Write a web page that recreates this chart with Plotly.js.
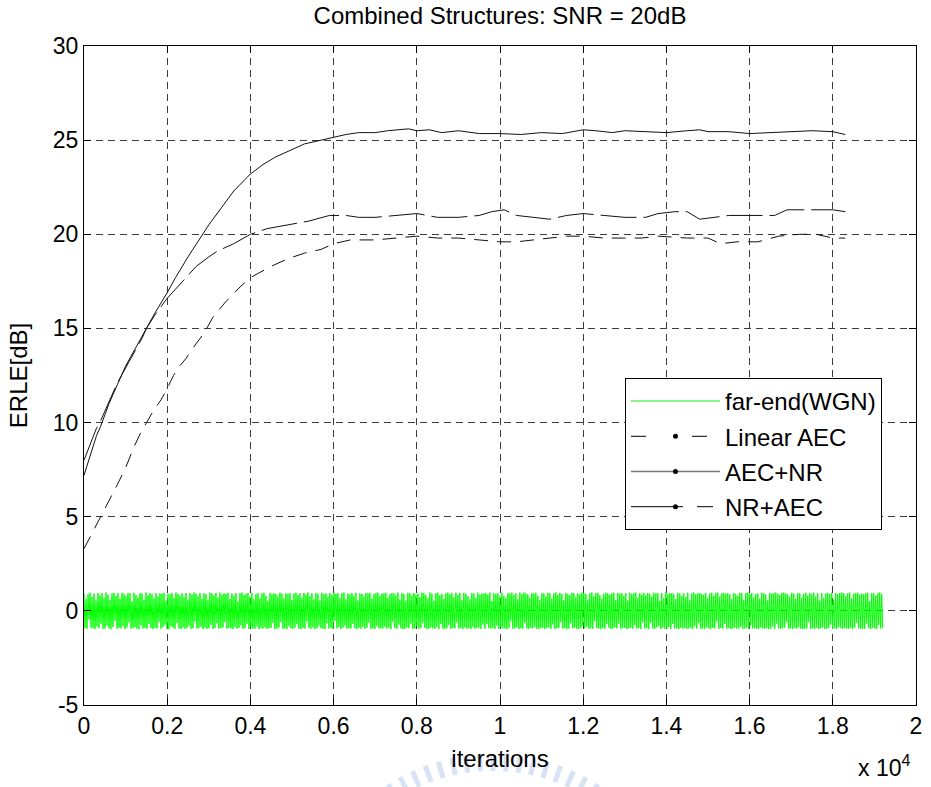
<!DOCTYPE html>
<html>
<head>
<meta charset="utf-8">
<script src="https://cdn.plot.ly/plotly-3.0.1.min.js"></script>
<style>
  html, body { margin: 0; padding: 0; background: #fff; }
  #chart { width: 931px; height: 787px; }
</style>
</head>
<body>
<div id="chart"></div>
<script>
// Axis ticks (iterations are plotted in units of 10^4)
const xTickVals = [0, 0.2, 0.4, 0.6, 0.8, 1, 1.2, 1.4, 1.6, 1.8, 2];
const xTickText = ['0', '0.2', '0.4', '0.6', '0.8', '1', '1.2', '1.4', '1.6', '1.8', '2'];
const yTickVals = [-5, 0, 5, 10, 15, 20, 25, 30];
const yTickText = ['-5', '0', '5', '10', '15', '20', '25', '30'];

// Series names
const seriesNames = ['far-end(WGN)', 'Linear AEC', 'AEC+NR', 'NR+AEC'];

// ERLE curves [dB]
const linAecX = [0, 0.019, 0.038, 0.06, 0.08, 0.10, 0.12, 0.135, 0.15, 0.166, 0.185, 0.20, 0.215, 0.23, 0.245, 0.26, 0.29, 0.31, 0.34, 0.375, 0.40, 0.45, 0.49, 0.53, 0.57, 0.60, 0.64, 0.70, 0.75, 0.80, 0.85, 0.90, 0.95, 1.00, 1.04, 1.08, 1.12, 1.16, 1.20, 1.25, 1.30, 1.34, 1.38, 1.45, 1.50, 1.53, 1.57, 1.62, 1.67, 1.72, 1.76, 1.80, 1.83];
const linAecY = [3.3, 4.1, 4.9, 5.8, 6.7, 7.6, 8.7, 9.4, 10.0, 10.6, 11.2, 11.8, 12.5, 13.0, 13.4, 13.9, 14.8, 15.6, 16.4, 17.2, 17.7, 18.3, 18.7, 19.0, 19.2, 19.5, 19.7, 19.7, 19.8, 19.9, 19.8, 19.8, 19.7, 19.6, 19.6, 19.7, 19.8, 19.9, 19.9, 19.8, 19.8, 19.8, 19.9, 19.8, 19.8, 19.5, 19.6, 19.6, 19.9, 20.0, 20.0, 19.8, 19.8];

const aecNrX = [0, 0.01, 0.02, 0.03, 0.04, 0.05, 0.06, 0.08, 0.10, 0.12, 0.14, 0.15, 0.17, 0.20, 0.22, 0.25, 0.28, 0.30, 0.33, 0.36, 0.40, 0.43, 0.46, 0.50, 0.53, 0.56, 0.60, 0.63, 0.66, 0.70, 0.73, 0.76, 0.78, 0.80, 0.83, 0.86, 0.90, 0.95, 1.00, 1.05, 1.10, 1.15, 1.20, 1.23, 1.27, 1.30, 1.35, 1.40, 1.45, 1.48, 1.50, 1.55, 1.60, 1.65, 1.70, 1.75, 1.80, 1.83];
const aecNrY = [7.2, 7.9, 8.6, 9.3, 9.8, 10.4, 11.0, 12.0, 13.0, 13.8, 14.6, 15.0, 15.8, 16.9, 17.7, 18.8, 19.8, 20.5, 21.4, 22.3, 23.2, 23.7, 24.1, 24.5, 24.8, 24.95, 25.15, 25.3, 25.4, 25.4, 25.5, 25.55, 25.6, 25.5, 25.55, 25.4, 25.5, 25.35, 25.35, 25.3, 25.4, 25.35, 25.55, 25.5, 25.4, 25.5, 25.45, 25.4, 25.5, 25.55, 25.45, 25.45, 25.35, 25.4, 25.45, 25.5, 25.45, 25.3];

const nrAecX = [0, 0.01, 0.02, 0.03, 0.04, 0.05, 0.06, 0.08, 0.10, 0.12, 0.14, 0.15, 0.17, 0.20, 0.22, 0.24, 0.27, 0.30, 0.32, 0.36, 0.40, 0.44, 0.49, 0.54, 0.59, 0.63, 0.66, 0.70, 0.75, 0.80, 0.85, 0.90, 0.95, 0.98, 1.01, 1.04, 1.08, 1.12, 1.16, 1.20, 1.25, 1.30, 1.35, 1.38, 1.42, 1.45, 1.48, 1.51, 1.55, 1.60, 1.66, 1.69, 1.74, 1.80, 1.83];
const nrAecY = [8.0, 8.6, 9.2, 9.7, 10.1, 10.6, 11.1, 12.1, 12.9, 13.7, 14.5, 15.0, 15.7, 16.6, 17.1, 17.6, 18.3, 18.8, 19.1, 19.5, 20.0, 20.3, 20.5, 20.7, 21.0, 21.0, 20.9, 20.9, 21.0, 21.1, 20.9, 20.9, 21.0, 21.2, 21.3, 21.0, 20.9, 20.8, 21.0, 21.1, 21.0, 20.9, 20.9, 21.1, 21.2, 21.2, 20.8, 20.9, 21.0, 21.0, 21.0, 21.3, 21.3, 21.3, 21.2];

// Far-end white Gaussian noise reference (amplitude per sample), spanning 0 .. wgnEnd
const wgnEnd = 1.92;
const wgnY = [
  .94,-.91,.62,-.95,.88,-.47,.96,-.89,.73,-.93,.91,-.96,.55,-.84,.95,-.92,.81,-.67,.93,-.95,
  .69,-.94,.97,-.78,.86,-.93,.58,-.97,.92,-.85,.95,-.52,.79,-.95,.94,-.90,.64,-.93,.96,-.81,
  .90,-.96,.77,-.88,.95,-.61,.93,-.94,.50,-.92,.96,-.87,.84,-.95,.71,-.97,.94,-.76,.92,-.93,
  .59,-.90,.97,-.95,.83,-.70,.94,-.91,.88,-.96,.66,-.89,.95,-.94,.76,-.58,.93,-.95,.90,-.86,
  .96,-.73,.54,-.94,.91,-.97,.87,-.82,.95,-.90,.68,-.95,.97,-.63,.89,-.93,.80,-.96,.93,-.88,
  .72,-.95,.95,-.91,.60,-.79,.94,-.96,.86,-.92,.97,-.56,.91,-.94,.78,-.90,.95,-.85,.65,-.97,
  .93,-.89,.88,-.95,.57,-.93,.96,-.74,.92,-.96,.82,-.91,.95,-.66,.70,-.94,.97,-.92,.85,-.88,
  .94,-.60,.89,-.95,.96,-.90,.63,-.93,.92,-.97,.80,-.86,.95,-.94,.51,-.91,.93,-.77,.97,-.95,
  .84,-.92,.90,-.68,.95,-.96,.74,-.89,.96,-.93,.61,-.95,.88,-.82,.94,-.97,.67,-.90,.92,-.94,
  .96,-.87,.79,-.95,.53,-.93,.95,-.91,.87,-.64,.93,-.96,.90,-.94,.75,-.88,.97,-.59,.91,-.95,
  .66,-.93,.94,-.97,.89,-.80,.95,-.92,.58,-.95,.92,-.89,.96,-.71,.83,-.94,.93,-.96,.69,-.91,
  .95,-.94,.86,-.57,.97,-.90,.77,-.95,.93,-.88,.62,-.96,.94,-.93,.91,-.79,.55,-.92,.96,-.95,
  .88,-.97,.92,-.66,.73,-.94,.95,-.91,.84,-.95,.96,-.52,.90,-.93,.94,-.86,.68,-.96,.93,-.90,
  .97,-.78,.61,-.95,.91,-.93,.87,-.94,.95,-.69,.80,-.92,.96,-.97,.56,-.89,.93,-.95,.90,-.83,
  .74,-.94,.95,-.90,.92,-.62,.96,-.95,.65,-.93,.89,-.96,.94,-.81,.97,-.91,.78,-.94,.91,-.93,
  .92,-.85,.96,-.94,.70,-.91,.88,-.97,.95,-.58,.93,-.90,.82,-.95,.97,-.74,.60,-.93,.94,-.96,
  .89,-.95,.55,-.88,.96,-.92,.93,-.67,.79,-.96,.95,-.94,.87,-.81,.92,-.95,.72,-.90,.97,-.63,
  .95,-.91,.84,-.96,.66,-.94,.97,-.89,.91,-.93,.54,-.95,.93,-.86,.96,-.97,.81,-.70,.90,-.94,
  .63,-.96,.93,-.92,.97,-.75,.88,-.95,.94,-.90,.71,-.93,.96,-.61,.85,-.94,.95,-.91,.57,-.96,
  .96,-.88,.90,-.95,.78,-.93,.61,-.97,.94,-.84,.92,-.95,.67,-.92,.97,-.89,.86,-.96,.93,-.73,
  .91,-.95,.95,-.69,.86,-.92,.97,-.94,.52,-.90,.94,-.96,.89,-.78,.93,-.95,.76,-.88,.96,-.93,
  .80,-.94,.68,-.96,.95,-.91,.92,-.55,.96,-.95,.83,-.93,.94,-.87,.62,-.96,.97,-.92,.88,-.95,
  .97,-.62,.93,-.94,.87,-.96,.70,-.90,.95,-.93,.91,-.84,.96,-.95,.79,-.97,.58,-.92,.94,-.89,
  .93,-.96,.76,-.91,.96,-.88,.94,-.95,.64,-.72,.92,-.96,.97,-.93,.85,-.90,.95,-.60,.89,-.94,
  .57,-.92,.95,-.97,.90,-.94,.82,-.66,.96,-.93,.94,-.89,.71,-.95,.93,-.96,.88,-.91,.97,-.80,
  .95,-.93,.89,-.85,.60,-.96,.93,-.92,.97,-.95,.77,-.54,.94,-.91,.96,-.94,.83,-.97,.65,-.90,
  .90,-.95,.96,-.71,.93,-.89,.85,-.96,.92,-.94,.97,-.87,.58,-.93,.95,-.68,.91,-.95,.94,-.92,
  .78,-.91,.94,-.96,.55,-.93,.96,-.90,.89,-.95,.93,-.76,.97,-.94,.69,-.92,.95,-.96,.86,-.59,
  .96,-.94,.82,-.90,.95,-.97,.91,-.63,.74,-.93,.96,-.95,.92,-.88,.94,-.81,.53,-.96,.93,-.91,
  .67,-.95,.97,-.92,.90,-.86,.93,-.96,.95,-.70,.88,-.94,.61,-.93,.96,-.97,.92,-.89,.79,-.95,
  .94,-.90,.73,-.96,.96,-.93,.58,-.91,.93,-.95,.97,-.82,.87,-.94,.92,-.64,.95,-.96,.90,-.93,
  .85,-.97,.95,-.88,.66,-.94,.92,-.95,.96,-.90,.81,-.93,.94,-.57,.97,-.96,.75,-.91,.93,-.94,
  .96,-.69,.91,-.95,.93,-.92,.87,-.96,.62,-.94,.95,-.89,.90,-.95,.78,-.93,.96,-.85,.94,-.97,
  .59,-.93,.94,-.90,.97,-.96,.92,-.77,.95,-.94,.72,-.91,.89,-.96,.93,-.95,.64,-.88,.96,-.93,
  .93,-.95,.86,-.92,.56,-.97,.96,-.94,.90,-.83,.94,-.95,.97,-.68,.91,-.93,.84,-.96,.95,-.90,
  .97,-.89,.93,-.60,.88,-.95,.75,-.93,.96,-.97,.92,-.91,.63,-.94,.95,-.87,.93,-.95,.70,-.96,
  .91,-.94,.96,-.93,.82,-.58,.94,-.96,.89,-.92,.97,-.95,.77,-.90,.93,-.96,.55,-.93,.94,-.88,
  .68,-.96,.92,-.95,.95,-.91,.90,-.73,.96,-.94,.60,-.93,.94,-.97,.88,-.85,.95,-.92,.97,-.95,
  .95,-.92,.79,-.94,.93,-.96,.97,-.90,.66,-.95,.91,-.88,.94,-.62,.96,-.93,.86,-.95,.92,-.96,
  .88,-.95,.94,-.67,.96,-.92,.53,-.97,.93,-.90,.95,-.94,.81,-.96,.92,-.76,.97,-.93,.90,-.94
];
const wgnX = wgnY.map((_, i) => i * wgnEnd / (wgnY.length - 1));

const FONT = '"Liberation Sans", Arial, Helvetica, sans-serif';
const GREEN = '#00ff00';

const traces = [
  // plotted series (their legend keys are separate entries below)
  { x: wgnX, y: wgnY, type: 'scatter', mode: 'lines', line: { color: GREEN, width: 1 }, showlegend: false, hoverinfo: 'skip' },
  { x: linAecX, y: linAecY, type: 'scatter', mode: 'lines', line: { color: '#111', width: 1, dash: '14px,9px' }, showlegend: false },
  { x: aecNrX, y: aecNrY, type: 'scatter', mode: 'lines', line: { color: '#111', width: 1 }, showlegend: false },
  { x: nrAecX, y: nrAecY, type: 'scatter', mode: 'lines', line: { color: '#111', width: 1, dash: '36px,7px' }, showlegend: false },

  // legend keys
  { x: [null], y: [null], type: 'scatter', mode: 'lines', name: seriesNames[0], legendgroup: 'a',
    line: { color: '#66ee66', width: 1.5 } },
  { x: [null], y: [null], type: 'scatter', mode: 'lines+markers', name: seriesNames[1], legendgroup: 'b',
    line: { color: '#000', width: 1, dash: '15px,46px,15px' }, marker: { color: '#000', size: 5 } },
  { x: [null], y: [null], type: 'scatter', mode: 'lines+markers', name: seriesNames[2], legendgroup: 'c',
    line: { color: '#777', width: 1.5 }, marker: { color: '#000', size: 5 } },
  { x: [null], y: [null], type: 'scatter', mode: 'lines+markers', name: seriesNames[3], legendgroup: 'd',
    line: { color: '#000', width: 1, dash: '52px,14px,16px' }, marker: { color: '#000', size: 5 } }
];

// faint emblem beneath the axis title
const px2x = px => (px - 84) / 832;
const px2y = py => (705 - py) / 659;
const emblemAngles = [58, 62, 66, 70, 74, 78, 82, 86, 90, 94, 98, 102, 106, 110, 114, 118, 122];
const emblem = emblemAngles.map(a => {
  const t = a * Math.PI / 180, cx = 493, cy = 952, r0 = 181, r1 = 198;
  return {
    type: 'line', xref: 'paper', yref: 'paper', layer: 'below',
    x0: px2x(cx + r0 * Math.cos(t)), y0: px2y(cy - r0 * Math.sin(t)),
    x1: px2x(cx + r1 * Math.cos(t)), y1: px2y(cy - r1 * Math.sin(t)),
    line: { color: 'rgba(110,150,215,0.28)', width: 5 }
  };
});

const axisCommon = {
  showline: true, linecolor: '#000', linewidth: 1, mirror: 'ticks',
  ticks: 'inside', ticklen: 7, tickwidth: 1, tickcolor: '#000',
  showgrid: true, gridcolor: '#3c3c3c', gridwidth: 1, griddash: '7px,5px',
  zeroline: false, tickfont: { family: FONT, size: 23, color: '#000' }
};

const layout = {
  width: 931, height: 787,
  margin: { l: 84, r: 15, t: 46, b: 82 },
  paper_bgcolor: '#fff', plot_bgcolor: '#fff',
  font: { family: FONT, size: 23, color: '#000' },
  title: { text: 'Combined Structures: SNR = 20dB', font: { family: FONT, size: 24, color: '#000' },
           xref: 'paper', x: 0.5, xanchor: 'center', yref: 'container', y: 1 - 16 / 787, yanchor: 'middle' },
  xaxis: Object.assign({}, axisCommon, {
    range: [0, 2], tickmode: 'array', tickvals: xTickVals, ticktext: xTickText,
    title: { text: 'iterations', font: { family: FONT, size: 24, color: '#000' }, standoff: 12 }
  }),
  yaxis: Object.assign({}, axisCommon, {
    range: [-5, 30], tickmode: 'array', tickvals: yTickVals, ticktext: yTickText,
    title: { text: 'ERLE[dB]', font: { family: FONT, size: 24, color: '#000' }, standoff: 18 }
  }),
  showlegend: true,
  legend: {
    x: px2x(625), y: px2y(378), xanchor: 'left', yanchor: 'top',
    bgcolor: '#fff', bordercolor: '#000', borderwidth: 1,
    font: { family: FONT, size: 24, color: '#000' },
    itemwidth: 89, tracegroupgap: 1, traceorder: 'grouped'
  },
  annotations: [{
    text: 'x 10<sup>4</sup>', xref: 'paper', yref: 'paper', x: px2x(884), y: px2y(766),
    xanchor: 'center', yanchor: 'middle', showarrow: false, font: { family: FONT, size: 23, color: '#000' }
  }],
  shapes: emblem
};

Plotly.newPlot('chart', traces, layout, { staticPlot: true, displayModeBar: false });
</script>
</body>
</html>
